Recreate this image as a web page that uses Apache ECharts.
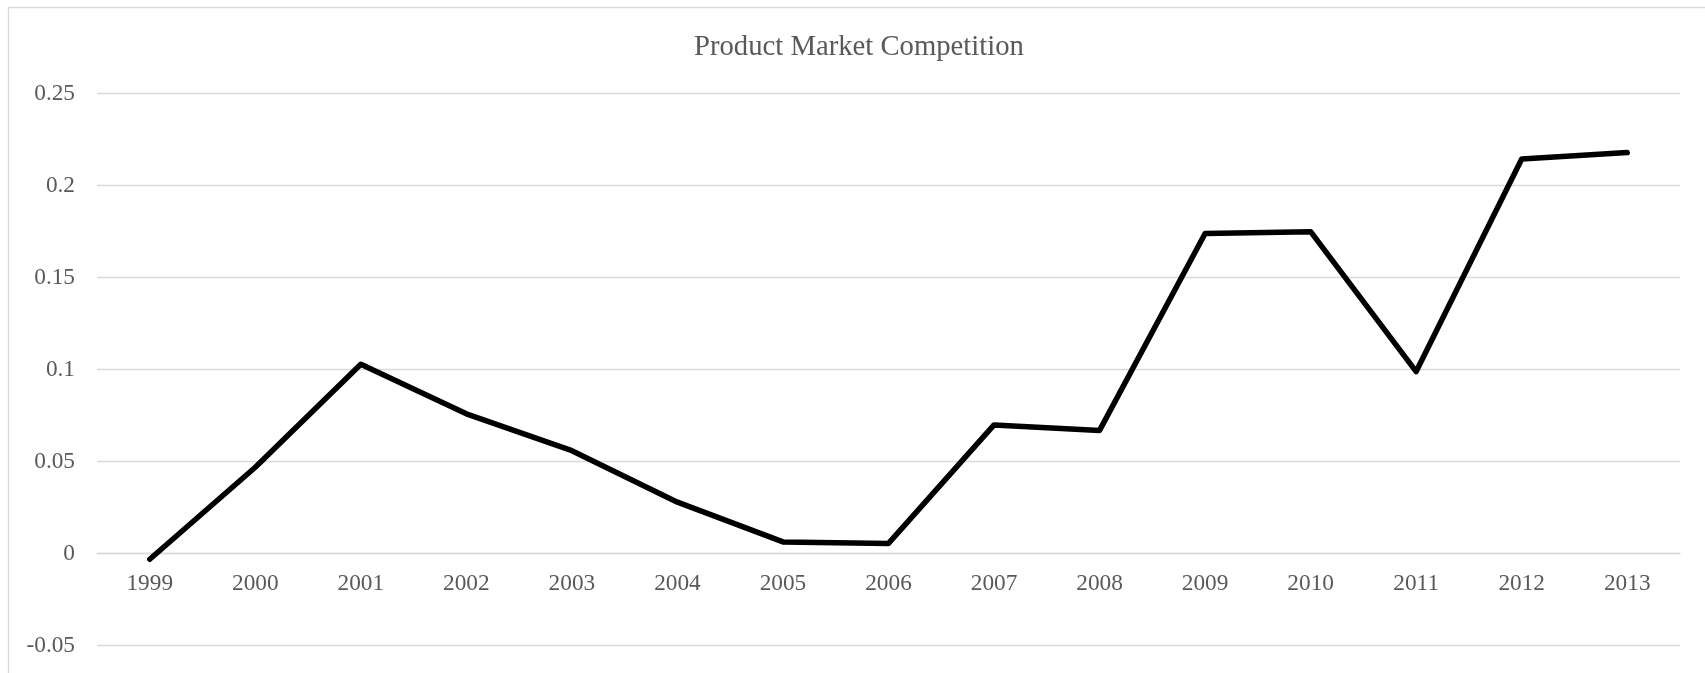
<!DOCTYPE html>
<html>
<head>
<meta charset="utf-8">
<script src="https://cdn.jsdelivr.net/npm/echarts@6/dist/echarts.min.js"></script>
<style>
    html, body { margin: 0; padding: 0; background: #fff; }
    #chart { width: 1705px; height: 673px; }
</style>
</head>
<body>
<div id="chart"></div>
<script>
// values
const years = ['1999', '2000', '2001', '2002', '2003', '2004', '2005', '2006',
    '2007', '2008', '2009', '2010', '2011', '2012', '2013'];
const competition = [-0.003, 0.047, 0.103, 0.076, 0.056, 0.028, 0.0064, 0.0056,
    0.070, 0.067, 0.174, 0.175, 0.099, 0.2145, 0.218];

const labelColor = '#595959';
const gridColor = '#d9d9d9';
const fontFamily = '"Liberation Serif", "Times New Roman", serif';

const gridTop = 93.7;
const gridBottom = 27.3;
// the category axis sits on the zero line, one step (of six) above the bottom
const zeroOffset = (673 - gridTop - gridBottom) / 6;

const chart = echarts.init(document.getElementById('chart'));

chart.setOption({
    animation: false,
    title: {
        text: 'Product Market Competition',
        left: 689,
        top: 28,
        textStyle: {
            color: labelColor,
            fontFamily: fontFamily,
            fontSize: 28.7,
            fontWeight: 'normal'
        }
    },
    // outer chart-area border, only top and left edges are in view
    graphic: [{
        type: 'rect',
        shape: { x: 8.5, y: 7.5, width: 1800, height: 800 },
        style: { fill: 'none', stroke: gridColor, lineWidth: 1.3 },
        silent: true
    }],
    grid: {
        left: 97,
        right: 25,
        top: gridTop,
        bottom: gridBottom,
        containLabel: false,
        outerBoundsMode: 'none'
    },
    xAxis: {
        type: 'category',
        data: years,
        boundaryGap: true,
        offset: -zeroOffset,
        axisTick: { show: false },
        axisLine: { onZero: false, lineStyle: { color: gridColor, width: 1.3 } },
        axisLabel: {
            color: labelColor,
            fontFamily: fontFamily,
            fontSize: 23.3,
            margin: 19
        }
    },
    yAxis: {
        type: 'value',
        min: -0.05,
        max: 0.25,
        interval: 0.05,
        axisLine: { show: false },
        axisTick: { show: false },
        splitLine: { lineStyle: { color: gridColor, width: 1.3 } },
        axisLabel: {
            color: labelColor,
            fontFamily: fontFamily,
            fontSize: 23.3,
            margin: 22
        }
    },
    series: [{
        name: 'Product Market Competition',
        type: 'line',
        data: competition,
        showSymbol: false,
        lineStyle: {
            color: '#000',
            width: 5.5,
            cap: 'round',
            join: 'round'
        }
    }]
});
</script>
</body>
</html>
